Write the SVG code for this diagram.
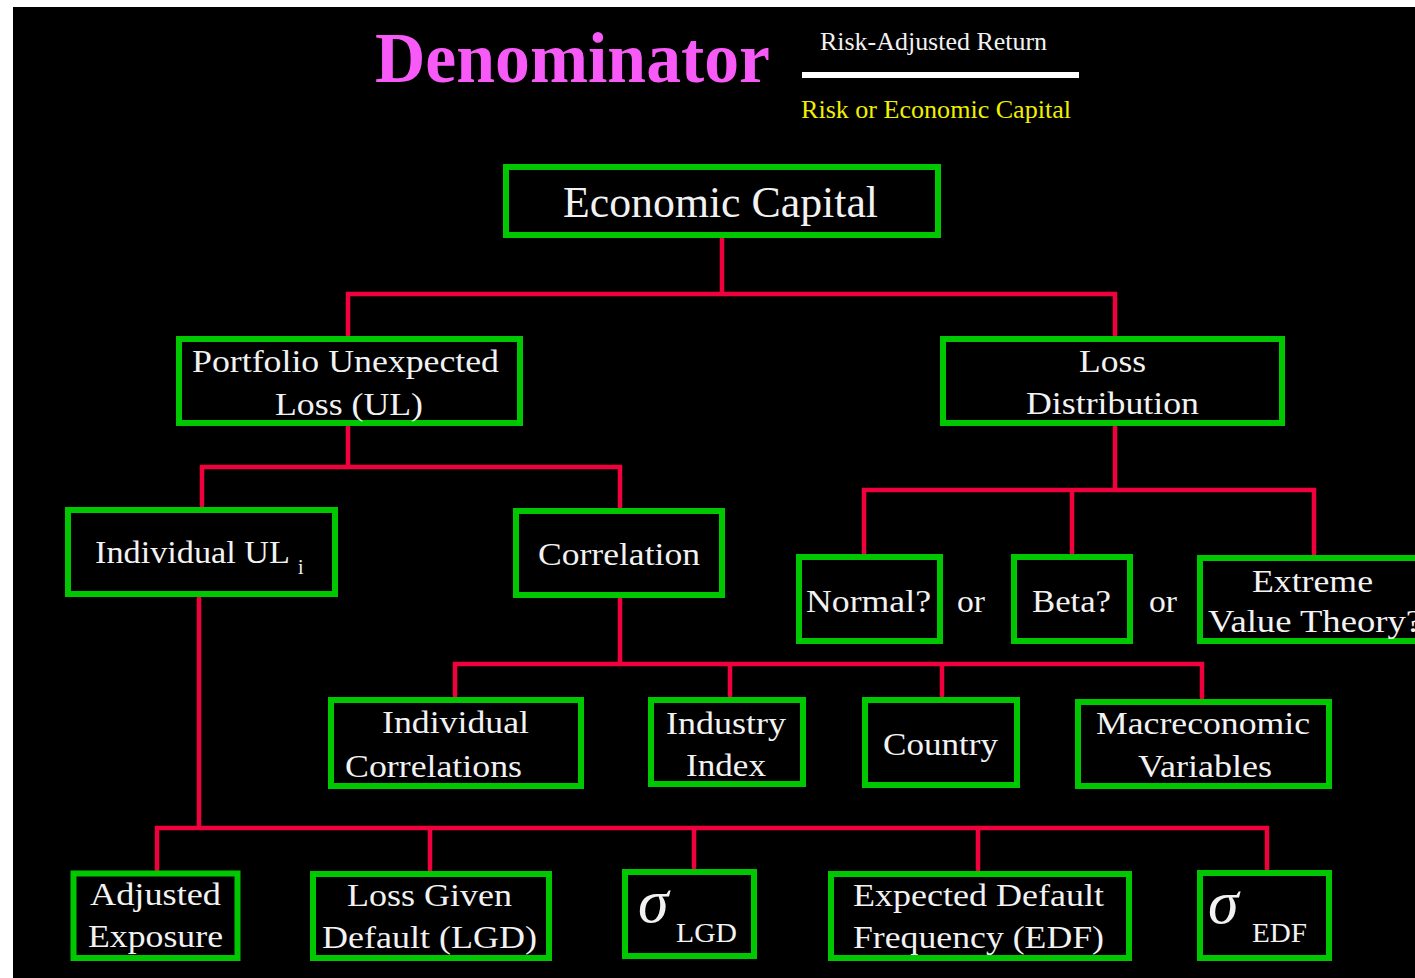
<svg xmlns="http://www.w3.org/2000/svg" width="1415" height="978" viewBox="0 0 1415 978">
<defs>
<style>
.bx{fill:#000;stroke:#00C800;stroke-width:6}
.t{font-family:"Liberation Serif","Times New Roman",serif;font-size:32px;fill:#F2F2F2}
.c{fill:none;stroke:#F0003C;stroke-width:4.5;stroke-linecap:square;stroke-linejoin:miter}
.sg{font-family:"Liberation Serif","Times New Roman",serif;font-style:italic;font-size:62px;fill:#F2F2F2}
.sub{font-family:"Liberation Serif","Times New Roman",serif;font-size:27px;fill:#F2F2F2}
</style>
</defs>
<rect x="0" y="0" width="1415" height="978" fill="#fff"/>
<rect x="13" y="7" width="1402" height="971" fill="#000"/>
<g id="header">
<text x="375" y="82" font-family="'Liberation Serif','Times New Roman',serif" font-weight="bold" font-size="72" fill="#F85AF8" textLength="395" lengthAdjust="spacingAndGlyphs">Denominator</text>
<text x="820" y="50" font-family="'Liberation Serif','Times New Roman',serif" font-size="26" fill="#F2F2F2" textLength="227" lengthAdjust="spacingAndGlyphs">Risk-Adjusted Return</text>
<rect x="802" y="72" width="277" height="6" fill="#fff"/>
<text x="801" y="118" font-family="'Liberation Serif','Times New Roman',serif" font-size="26" fill="#F0F000" textLength="270" lengthAdjust="spacingAndGlyphs">Risk or Economic Capital</text>
</g>
<g id="connectors">
<path class="c" d="M722 236 V294 M348 294 H1115 M348 294 V339 M1115 294 V339"/>
<path class="c" d="M348 423 V467 M202 467 H620 M202 467 V510 M620 467 V511"/>
<path class="c" d="M1115 423 V490 M864 490 H1314 M864 490 V557 M1072 490 V557 M1314 490 V558"/>
<path class="c" d="M620 595 V664 M455 664 H1202 M455 664 V700 M730 664 V700 M942 664 V700 M1202 664 V702"/>
<path class="c" d="M199 594 V828 M157 828 H1267 M157 828 V873 M430 828 V874 M694 828 V872 M978 828 V874 M1267 828 V873"/>
</g>
<g id="economic-capital">
<rect class="bx" x="506" y="167" width="432" height="68"/>
<text x="563" y="217" class="t" style="font-size:44px" textLength="315" lengthAdjust="spacingAndGlyphs">Economic Capital</text>
</g>
<g id="portfolio-ul">
<rect class="bx" x="179" y="339" width="341" height="84"/>
<text x="192" y="372" class="t" textLength="307" lengthAdjust="spacingAndGlyphs">Portfolio Unexpected</text>
<text x="275" y="415" class="t" textLength="148" lengthAdjust="spacingAndGlyphs">Loss (UL)</text>
</g>
<g id="loss-distribution">
<rect class="bx" x="943" y="339" width="339" height="84"/>
<text x="1079" y="372" class="t" textLength="67" lengthAdjust="spacingAndGlyphs">Loss</text>
<text x="1026" y="414" class="t" textLength="173" lengthAdjust="spacingAndGlyphs">Distribution</text>
</g>
<g id="individual-ul">
<rect class="bx" x="68" y="510" width="267" height="84"/>
<text x="95" y="563" class="t" textLength="195" lengthAdjust="spacingAndGlyphs">Individual UL</text>
<text x="298" y="574" class="t" style="font-size:20px">i</text>
</g>
<g id="correlation">
<rect class="bx" x="516" y="511" width="206" height="84"/>
<text x="538" y="565" class="t" textLength="162" lengthAdjust="spacingAndGlyphs">Correlation</text>
</g>
<g id="normal">
<rect class="bx" x="799" y="557" width="141" height="84"/>
<text x="806" y="612" class="t" textLength="125" lengthAdjust="spacingAndGlyphs">Normal?</text>
</g>
<g id="or-1"><text x="957" y="612" class="t" textLength="28" lengthAdjust="spacingAndGlyphs">or</text></g>
<g id="beta">
<rect class="bx" x="1014" y="557" width="116" height="84"/>
<text x="1032" y="612" class="t" textLength="79" lengthAdjust="spacingAndGlyphs">Beta?</text>
</g>
<g id="or-2"><text x="1149" y="612" class="t" textLength="28" lengthAdjust="spacingAndGlyphs">or</text></g>
<g id="extreme-value">
<rect class="bx" x="1200" y="558" width="230" height="83"/>
<text x="1252" y="592" class="t" textLength="121" lengthAdjust="spacingAndGlyphs">Extreme</text>
<text x="1208" y="632" class="t" textLength="214" lengthAdjust="spacingAndGlyphs">Value Theory?</text>
</g>
<g id="individual-correlations">
<rect class="bx" x="331" y="700" width="250" height="86"/>
<text x="382" y="733" class="t" textLength="147" lengthAdjust="spacingAndGlyphs">Individual</text>
<text x="345" y="777" class="t" textLength="177" lengthAdjust="spacingAndGlyphs">Correlations</text>
</g>
<g id="industry-index">
<rect class="bx" x="651" y="700" width="152" height="84"/>
<text x="666" y="734" class="t" textLength="120" lengthAdjust="spacingAndGlyphs">Industry</text>
<text x="686" y="776" class="t" textLength="80" lengthAdjust="spacingAndGlyphs">Index</text>
</g>
<g id="country">
<rect class="bx" x="865" y="700" width="152" height="85"/>
<text x="883" y="755" class="t" textLength="115" lengthAdjust="spacingAndGlyphs">Country</text>
</g>
<g id="macroeconomic">
<rect class="bx" x="1078" y="702" width="251" height="84"/>
<text x="1096" y="734" class="t" textLength="214" lengthAdjust="spacingAndGlyphs">Macreconomic</text>
<text x="1138" y="777" class="t" textLength="134" lengthAdjust="spacingAndGlyphs">Variables</text>
</g>
<g id="adjusted-exposure">
<rect class="bx" x="73.5" y="873.5" width="164" height="84.5"/>
<text x="90" y="905" class="t" textLength="131" lengthAdjust="spacingAndGlyphs">Adjusted</text>
<text x="88" y="947" class="t" textLength="135" lengthAdjust="spacingAndGlyphs">Exposure</text>
</g>
<g id="lgd">
<rect class="bx" x="313" y="874" width="236" height="84"/>
<text x="347" y="906" class="t" textLength="165" lengthAdjust="spacingAndGlyphs">Loss Given</text>
<text x="322" y="948" class="t" textLength="215" lengthAdjust="spacingAndGlyphs">Default (LGD)</text>
</g>
<g id="sigma-lgd">
<rect class="bx" x="625" y="872" width="129" height="84"/>
<text x="638" y="922" class="sg">σ</text>
<text x="676" y="942" class="sub" textLength="61" lengthAdjust="spacingAndGlyphs">LGD</text>
</g>
<g id="edf">
<rect class="bx" x="831" y="874" width="298" height="84"/>
<text x="853" y="906" class="t" textLength="251" lengthAdjust="spacingAndGlyphs">Expected Default</text>
<text x="853" y="948" class="t" textLength="251" lengthAdjust="spacingAndGlyphs">Frequency (EDF)</text>
</g>
<g id="sigma-edf">
<rect class="bx" x="1200" y="873" width="129" height="85"/>
<text x="1208" y="923" class="sg">σ</text>
<text x="1252" y="942" class="sub" textLength="55" lengthAdjust="spacingAndGlyphs">EDF</text>
</g>
</svg>
